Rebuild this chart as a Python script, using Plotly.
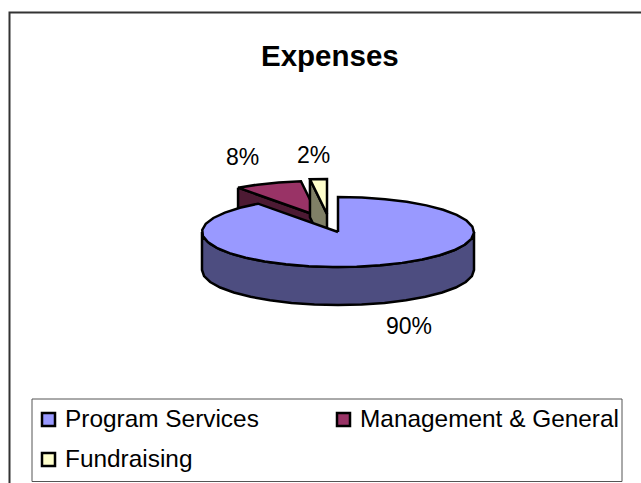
import numpy as np
import plotly.graph_objects as go

title = "Expenses"
categories = ["Program Services", "Management & General", "Fundraising"]
values = [90, 8, 2]
labels = ["90%", "8%", "2%"]

W, H = 641, 483
FONT = "Liberation Sans"
TOP = ["#9999ff", "#993366", "#ffffcc"]
SIDE = ["#4d4d80", "#4d1a33", "#808066"]
CX, CY, RX, RY, DEPTH = 338, 232, 136, 35, 38
OFFSET = [(0, 0), (-20, -16), (-11, -18)]
STEP = 10.0
LABEL_POS = [(409, 326), (242, 157), (313, 155)]
LEGEND_POS = [(48.5, 419.5), (343.5, 419.5), (48.5, 459.5)]


def rim(a0, a1, cx, cy):
    n = max(2, int(round((a1 - a0) / STEP)) + 1)
    t = np.radians(np.linspace(a0, a1, n))
    return cx + RX * np.sin(t), cy - RY * np.cos(t)


def poly(x, y, fill, lw=2.5):
    return go.Scatter(x=list(x) + [x[0]], y=list(y) + [y[0]], mode="lines", fill="toself",
                      fillcolor=fill, line=dict(color="black", width=lw), hoverinfo="skip",
                      showlegend=False)


edges = np.concatenate([[0], np.cumsum(values)]) / sum(values) * 360
fig = go.Figure()

# exploded small slices first: main slice overlaps them
for i in [1, 2]:
    cx, cy = CX + OFFSET[i][0], CY + OFFSET[i][1]
    a0, a1 = edges[i], edges[i + 1]
    lx, ly = rim(a0, a0, cx, cy)
    fig.add_trace(poly([lx[0], cx, cx, lx[0]], [ly[0], cy, cy + DEPTH, ly[0] + DEPTH], SIDE[i]))
    rx, ry = rim(a0, a1, cx, cy)
    fig.add_trace(poly([cx, *rx], [cy, *ry], TOP[i]))

# main slice
sx, sy = rim(90, 270, CX, CY)
fig.add_trace(poly(list(sx) + list(sx[::-1]), list(sy) + list(sy[::-1] + DEPTH), SIDE[0]))
mx, my = rim(edges[0], edges[1], CX, CY)
fig.add_trace(poly([CX, *mx], [CY, *my], TOP[0]))

# legend markers
for i, (lx, ly) in enumerate(LEGEND_POS):
    fig.add_trace(go.Scatter(x=[lx], y=[ly], mode="markers", hoverinfo="skip", showlegend=False,
                             marker=dict(symbol="square", size=13, color=TOP[i],
                                         line=dict(color="black", width=2.5))))
    fig.add_annotation(x=lx + 14.5, y=ly - 1, text=categories[i], showarrow=False, xanchor="left",
                       yanchor="middle", font=dict(family=FONT, size=24.4, color="black"))

for (lx, ly), t in zip(LABEL_POS, labels):
    fig.add_annotation(x=lx, y=ly, text=t, showarrow=False, xanchor="center", yanchor="middle",
                       font=dict(family=FONT, size=23, color="black"))

fig.add_annotation(x=330, y=55, text=f"<b>{title}</b>", showarrow=False, xanchor="center",
                   yanchor="middle", font=dict(family=FONT, size=29.5, color="black"))

# outer frame (runs off the right and bottom of the picture) and legend box
fig.add_shape(type="rect", x0=9.5, y0=12.5, x1=W + 10, y1=H + 10, line=dict(color="#333333", width=2),
              layer="below")
fig.add_shape(type="rect", x0=32, y0=399, x1=622, y1=481.5, line=dict(color="#555555", width=1),
              layer="below")

fig.update_layout(width=W, height=H, margin=dict(l=0, r=0, t=0, b=0), paper_bgcolor="white",
                  plot_bgcolor="white", showlegend=False)
fig.update_xaxes(range=[0, W], visible=False, fixedrange=True)
fig.update_yaxes(range=[H, 0], visible=False, fixedrange=True)
fig.write_html("out.html", config=dict(displayModeBar=False),
               post_script="document.body.style.margin='0';document.body.style.overflow='hidden';")
